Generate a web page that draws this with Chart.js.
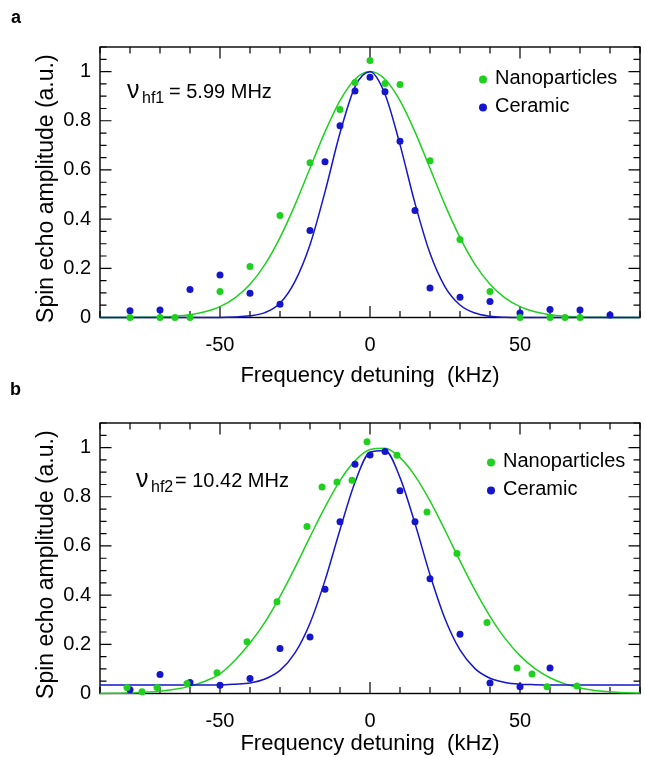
<!DOCTYPE html>
<html>
<head>
<meta charset="utf-8">
<script src="https://cdn.jsdelivr.net/npm/chart.js@4.4.1/dist/chart.umd.min.js"></script>
<style>
  html, body { margin: 0; padding: 0; background: #fff; overflow: hidden; }
  body { width: 646px; height: 758px; position: relative; }
  canvas { position: absolute; left: 0; }
  #panelA { top: 0; }
  #panelB { top: 378px; }
</style>
</head>
<body>
<canvas id="panelA" width="646" height="390"></canvas>
<canvas id="panelB" width="646" height="390"></canvas>
<script>
// tick labels
const xTickLabels = [-50, 0, 50];
const yTickLabels = [0, 0.2, 0.4, 0.6, 0.8, 1];

// panel a, measured points
const nanoA_x = [-80, -70, -65, -60, -50, -40, -30, -20, -10, -5, 0, 5, 10, 20, 30, 40, 50, 60, 65, 70];
const nanoA_y = [0, 0, 0, 0, 0.106, 0.207, 0.415, 0.629, 0.846, 0.956, 1.045, 0.952, 0.948, 0.637, 0.317, 0.106, 0, 0, 0, 0];
const ceramicA_x = [-80, -70, -60, -50, -40, -30, -20, -15, -10, -5, 0, 5, 10, 15, 20, 30, 40, 50, 60, 70, 80];
const ceramicA_y = [0.027, 0.031, 0.114, 0.173, 0.099, 0.054, 0.354, 0.633, 0.78, 0.921, 0.977, 0.918, 0.717, 0.435, 0.12, 0.082, 0.065, 0.018, 0.033, 0.031, 0.01];

// panel b, measured points
const nanoB_x = [-81, -76, -71, -61, -51, -41, -31, -21, -16, -11, -6, -1, 9, 19, 29, 39, 49, 54, 59, 69];
const nanoB_y = [0.024, 0.007, 0.024, 0.041, 0.084, 0.21, 0.373, 0.679, 0.84, 0.86, 0.867, 1.024, 0.969, 0.738, 0.569, 0.289, 0.104, 0.079, 0.027, 0.031];
const ceramicB_x = [-80, -70, -60, -50, -40, -30, -20, -15, -10, -5, 0, 5, 10, 15, 20, 30, 40, 50, 60];
const ceramicB_y = [0.015, 0.077, 0.045, 0.034, 0.061, 0.183, 0.23, 0.424, 0.698, 0.932, 0.97, 0.984, 0.824, 0.698, 0.467, 0.241, 0.043, 0.027, 0.104];

const fitX = [-90, -85, -80, -75, -70, -65, -60, -55, -50, -45, -40, -35, -30, -25, -20, -15, -10, -5, 0,
              5, 10, 15, 20, 25, 30, 35, 40, 45, 50, 55, 60, 65, 70, 75, 80, 85, 90];
const fitNanoA = [0, 0, 0, 0.001, 0.002, 0.005, 0.011, 0.023, 0.044, 0.08, 0.135, 0.216, 0.325, 0.458, 0.607, 0.755, 0.882, 0.969, 1,
                  0.969, 0.882, 0.755, 0.607, 0.458, 0.325, 0.216, 0.135, 0.08, 0.044, 0.023, 0.011, 0.005, 0.002, 0.001, 0, 0, 0];
const fitCeramicA = [0, 0, 0, 0, 0, 0, 0, 0, 0, 0.002, 0.007, 0.02, 0.058, 0.147, 0.296, 0.511, 0.75, 0.938, 0.999,
                     0.908, 0.703, 0.464, 0.261, 0.125, 0.051, 0.018, 0.005, 0.001, 0, 0, 0, 0, 0, 0, 0, 0, 0];
const fitNanoB = [0, 0.001, 0.002, 0.005, 0.009, 0.017, 0.03, 0.05, 0.08, 0.135, 0.205, 0.29, 0.395, 0.512, 0.637, 0.758, 0.866, 0.946, 0.992,
                  0.997, 0.959, 0.885, 0.783, 0.664, 0.539, 0.42, 0.314, 0.224, 0.154, 0.101, 0.064, 0.039, 0.022, 0.012, 0.007, 0.003, 0.002];
const fitCeramicB = [0.035, 0.035, 0.035, 0.035, 0.035, 0.035, 0.035, 0.035, 0.035, 0.038, 0.043, 0.059, 0.094, 0.165, 0.286, 0.46, 0.666, 0.859, 0.981,
                     0.988, 0.878, 0.691, 0.483, 0.304, 0.177, 0.101, 0.062, 0.045, 0.038, 0.036, 0.035, 0.035, 0.035, 0.035, 0.035, 0.035, 0.035];

const GREEN = '#1fd01f';
const BLUE = '#1515cc';
const FONT = '"Liberation Sans", Arial, Helvetica, sans-serif';

const zip = (xs, ys) => xs.map((x, i) => ({ x: x, y: ys[i] }));
const isLabelled = (list, v) => list.some(l => Math.abs(l - v) < 1e-6);

// frame + inward ticks on all four sides
const frameTicks = {
  id: 'frameTicks',
  beforeDatasetsDraw(chart) {
    const { ctx, chartArea: ca, scales } = chart;
    ctx.save();
    ctx.strokeStyle = '#000';
    ctx.lineWidth = 1.4;
    ctx.strokeRect(ca.left, ca.top, ca.right - ca.left, ca.bottom - ca.top);
    ctx.lineWidth = 1.2;
    ctx.beginPath();
    scales.x.ticks.forEach(t => {
      const px = scales.x.getPixelForValue(t.value);
      const len = isLabelled(xTickLabels, t.value) ? 11.5 : 6.5;
      ctx.moveTo(px, ca.bottom); ctx.lineTo(px, ca.bottom - len);
      ctx.moveTo(px, ca.top); ctx.lineTo(px, ca.top + len);
    });
    scales.y.ticks.forEach(t => {
      const py = scales.y.getPixelForValue(t.value);
      const len = isLabelled(yTickLabels, Math.round(t.value * 100) / 100) ? 11.5 : 6.5;
      ctx.moveTo(ca.left, py); ctx.lineTo(ca.left + len, py);
      ctx.moveTo(ca.right, py); ctx.lineTo(ca.right - len, py);
    });
    ctx.stroke();
    ctx.restore();
  }
};

// panel letter, nu annotation and the legend
const panelText = {
  id: 'panelText',
  afterDraw(chart, args, o) {
    const ctx = chart.ctx;
    ctx.save();
    ctx.fillStyle = '#000';
    ctx.textBaseline = 'alphabetic';
    ctx.textAlign = 'left';
    ctx.font = 'bold 18px ' + FONT;
    ctx.fillText(o.letter, o.letterPos[0], o.letterPos[1]);

    const [nx, ny] = o.nuPos;
    ctx.font = '25px ' + FONT;
    ctx.fillText('\u03BD', nx, ny);
    ctx.font = '16px ' + FONT;
    ctx.fillText(o.sub, nx + 15, ny + 5);
    ctx.font = '20px ' + FONT;
    ctx.fillText(o.value, nx + o.valueDx, ny);

    const [lx, ly] = o.legendPos;
    ctx.font = '20px ' + FONT;
    ctx.textBaseline = 'middle';
    o.entries.forEach((e, i) => {
      const y = ly + i * 28;
      ctx.fillStyle = e.color;
      ctx.beginPath();
      ctx.arc(lx, y + 1.5, 4, 0, Math.PI * 2);
      ctx.fill();
      ctx.fillStyle = '#000';
      ctx.fillText(e.label, lx + 12, y);
    });
    ctx.restore();
  }
};

function makePanel(id, nano, ceramic, fitNano, fitCeramic, text, padTop, xHeight, titlePad) {
  return new Chart(document.getElementById(id), {
    type: 'scatter',
    data: {
      datasets: [
        { label: 'Nanoparticles', data: nano, backgroundColor: GREEN, borderWidth: 0, pointRadius: 3.5, clip: false, order: 0 },
        { label: 'Ceramic', data: ceramic, backgroundColor: BLUE, borderWidth: 0, pointRadius: 3.5, clip: false, order: 1 },
        { label: 'fit Nanoparticles', data: fitNano, showLine: true, borderColor: GREEN, borderWidth: 1.5,
          pointRadius: 0, cubicInterpolationMode: 'monotone', clip: false, order: 3 },
        { label: 'fit Ceramic', data: fitCeramic, showLine: true, borderColor: BLUE, borderWidth: 1.5,
          pointRadius: 0, cubicInterpolationMode: 'monotone', clip: false, order: 2 }
      ]
    },
    options: {
      responsive: false,
      animation: false,
      layout: { padding: { top: padTop, right: 6, left: 0, bottom: 0 } },
      plugins: {
        legend: { display: false },
        tooltip: { enabled: false },
        panelText: text
      },
      scales: {
        x: {
          type: 'linear', min: -90, max: 90,
          grid: { display: false, drawTicks: true, tickLength: 10 },
          border: { display: false },
          ticks: {
            stepSize: 10, autoSkip: false, maxRotation: 0, padding: 5.5,
            color: '#000', font: { family: FONT, size: 20 },
            callback: v => isLabelled(xTickLabels, v) ? String(Math.round(v)) : ''
          },
          title: {
            display: true, text: 'Frequency detuning  (kHz)', color: '#000',
            font: { family: FONT, size: 22 }, padding: { top: 0, bottom: titlePad }
          },
          afterFit: s => { s.height = xHeight; }
        },
        y: {
          min: 0, max: 1.1,
          grid: { display: false, drawTicks: false },
          border: { display: false },
          ticks: {
            stepSize: 0.05, autoSkip: false, padding: 9,
            color: '#000', font: { family: FONT, size: 20 },
            callback: v => (v < 1.01 && isLabelled(yTickLabels, Math.round(v * 100) / 100)) ? String(Math.round(v * 10) / 10) : ''
          },
          title: {
            display: true, text: 'Spin echo amplitude (a.u.)  ', color: '#000',
            font: { family: FONT, size: 23 }, padding: { top: 33.2, bottom: 0 }
          },
          afterFit: s => { s.width = 100; }
        }
      }
    },
    plugins: [frameTicks, panelText]
  });
}

makePanel('panelA',
  zip(nanoA_x, nanoA_y), zip(ceramicA_x, ceramicA_y),
  zip(fitX, fitNanoA), zip(fitX, fitCeramicA),
  {
    letter: 'a', letterPos: [11, 23],
    nuPos: [127, 98], sub: 'hf1', value: '= 5.99 MHz', valueDx: 42,
    legendPos: [483, 78],
    entries: [{ label: 'Nanoparticles', color: GREEN }, { label: 'Ceramic', color: BLUE }]
  },
  47, 72.5, 0.5);

makePanel('panelB',
  zip(nanoB_x, nanoB_y), zip(ceramicB_x, ceramicB_y),
  zip(fitX, fitNanoB), zip(fitX, fitCeramicB),
  {
    letter: 'b', letterPos: [10, 17],
    nuPos: [136, 108.5], sub: 'hf2', value: '= 10.42 MHz', valueDx: 39,
    legendPos: [491, 83],
    entries: [{ label: 'Nanoparticles', color: GREEN }, { label: 'Ceramic', color: BLUE }]
  },
  45, 74.5, 11);
</script>
</body>
</html>
